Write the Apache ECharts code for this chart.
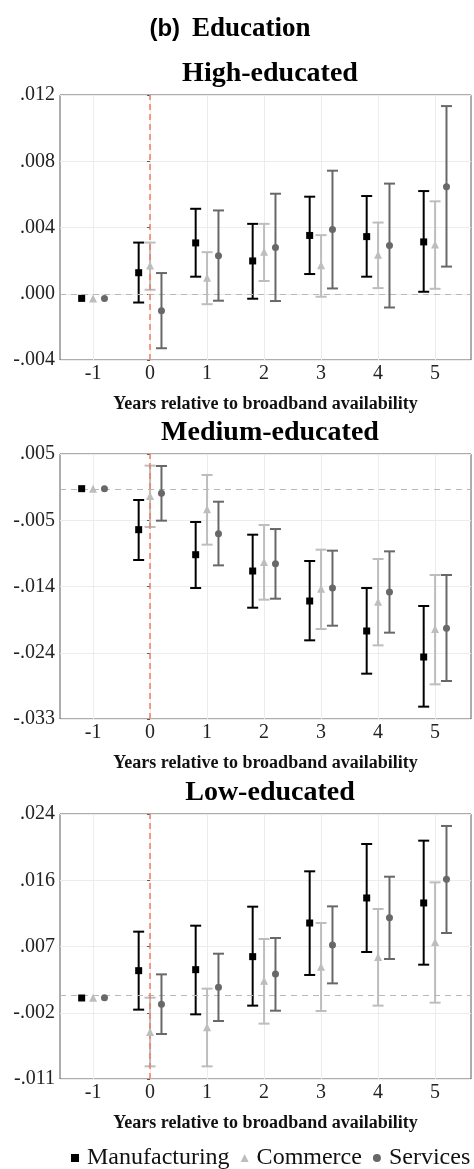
<!DOCTYPE html>
<html>
<head>
<meta charset="utf-8">
<script src="https://cdn.jsdelivr.net/npm/echarts@6/dist/echarts.min.js"></script>
<style>
html,body{margin:0;padding:0;background:#fff;}
#chart{width:474px;height:1169px;}
</style>
</head>
<body>
<div id="chart"></div>
<script>
// ---------- data ----------
const years = [-1, 0, 1, 2, 3, 4, 5];
const xTickLabels = ['-1', '0', '1', '2', '3', '4', '5'];
const seriesNames = ['Manufacturing', 'Commerce', 'Services'];
const panelTitles = ['High-educated', 'Medium-educated', 'Low-educated'];
const xAxisTitle = 'Years relative to broadband availability';

// y tick labels (bottom to top) and axis ranges
const yTicksHigh = ['-.004', '.000', '.004', '.008', '.012'];
const yTicksMed = ['-.033', '-.024', '-.014', '-.005', '.005'];
const yTicksLow = ['-.011', '-.002', '.007', '.016', '.024'];
const yRangeHigh = [-0.004, 0.012];
const yRangeMed = [-0.033, 0.005];
const yRangeLow = [-0.011, 0.024];
const refHigh = -0.00028, refMed = 0.00003, refLow = -0.00026;

// High-educated
const manuHigh = [-0.00028, 0.00127, 0.00307, 0.00198, 0.00352, 0.00345, 0.00313];
const manuHighLo = [null, -0.00053, 0.00103, -0.00030, 0.00119, 0.00103, 0.00012];
const manuHighHi = [null, 0.00309, 0.00513, 0.00422, 0.00586, 0.00590, 0.00620];
const commHigh = [-0.00028, 0.00170, 0.00097, 0.00253, 0.00172, 0.00236, 0.00297];
const commHighLo = [null, 0.00024, -0.00063, 0.00077, -0.00018, 0.00034, 0.00030];
const commHighHi = [null, 0.00309, 0.00251, 0.00422, 0.00354, 0.00430, 0.00558];
const servHigh = [-0.00028, -0.00103, 0.00230, 0.00279, 0.00388, 0.00291, 0.00646];
const servHighLo = [null, -0.00329, -0.00042, -0.00044, 0.00032, -0.00083, 0.00164];
const servHighHi = [null, 0.00125, 0.00503, 0.00604, 0.00743, 0.00665, 0.01133];

// Medium-educated
const manuMed = [0.00003, -0.00585, -0.00944, -0.01178, -0.01608, -0.02038, -0.02411];
const manuMedLo = [null, -0.01020, -0.01422, -0.01704, -0.02172, -0.02650, -0.03123];
const manuMedHi = [null, -0.00160, -0.00475, -0.00657, -0.01034, -0.01422, -0.01680];
const commMed = [0.00003, -0.00102, -0.00294, -0.01049, -0.01431, -0.01618, -0.02010];
const commMedLo = [null, -0.00547, -0.00800, -0.01589, -0.02010, -0.02244, -0.02803];
const commMedHi = [null, 0.00333, 0.00199, -0.00518, -0.00872, -0.01006, -0.01235];
const servMed = [0.00003, -0.00064, -0.00642, -0.01073, -0.01422, -0.01479, -0.02000];
const servMedLo = [null, -0.00456, -0.01097, -0.01575, -0.01962, -0.02062, -0.02755];
const servMedHi = [null, 0.00328, -0.00184, -0.00576, -0.00886, -0.00896, -0.01235];

// Low-educated
const manuLow = [-0.00030, 0.00331, 0.00344, 0.00516, 0.00960, 0.01291, 0.01225];
const manuLowLo = [null, -0.00184, -0.00246, -0.00131, 0.00274, 0.00577, 0.00410];
const manuLowHi = [null, 0.00846, 0.00925, 0.01176, 0.01643, 0.02004, 0.02048];
const commLow = [-0.00026, -0.00479, -0.00418, 0.00199, 0.00384, 0.00511, 0.00709];
const commLowLo = [null, -0.00933, -0.00933, -0.00369, -0.00202, -0.00131, -0.00092];
const commLowHi = [null, -0.00026, 0.00093, 0.00749, 0.00960, 0.01145, 0.01497];
const servLow = [-0.00026, -0.00114, 0.00111, 0.00287, 0.00670, 0.01031, 0.01537];
const servLowLo = [null, -0.00506, -0.00334, -0.00198, 0.00163, 0.00485, 0.00828];
const servLowHi = [null, 0.00282, 0.00555, 0.00762, 0.01180, 0.01572, 0.02242];

// ---------- styling ----------
const SERIF = '"Liberation Serif", "DejaVu Serif", serif';
const colors = ['#000000', '#bdbdbd', '#686868'];
const symbols = ['rect', 'triangle', 'circle'];
const offsets = [-0.2, 0, 0.2];
const gridTops = [95, 454, 814];
const gridH = 265;

const panels = [
  { title: panelTitles[0], ticks: yTicksHigh, range: yRangeHigh, ref: refHigh,
    est: [manuHigh, commHigh, servHigh], lo: [manuHighLo, commHighLo, servHighLo], hi: [manuHighHi, commHighHi, servHighHi] },
  { title: panelTitles[1], ticks: yTicksMed, range: yRangeMed, ref: refMed,
    est: [manuMed, commMed, servMed], lo: [manuMedLo, commMedLo, servMedLo], hi: [manuMedHi, commMedHi, servMedHi] },
  { title: panelTitles[2], ticks: yTicksLow, range: yRangeLow, ref: refLow,
    est: [manuLow, commLow, servLow], lo: [manuLowLo, commLowLo, servLowLo], hi: [manuLowHi, commLowHi, servLowHi] }
];

const grid = [], xAxis = [], yAxis = [], series = [];
const title = [{
  text: '{b|(b)}{e|Education}',
  left: 225, top: 11, textAlign: 'center',
  textStyle: { rich: {
    b: { fontFamily: '"Liberation Sans", Arial, sans-serif', fontWeight: 'bold', fontSize: 24, color: '#000' },
    e: { fontFamily: SERIF, fontSize: 27, color: '#000', padding: [0, 0, 0, 12] }
  } }
}];

panels.forEach((p, i) => {
  grid.push({ left: 60, width: 411, top: gridTops[i], height: gridH, show: true,
    borderColor: '#5a5a5a', borderWidth: 1, backgroundColor: 'transparent' });
  title.push({ text: p.title, left: 265, textAlign: 'center', top: gridTops[i] - 40,
    textStyle: { fontFamily: SERIF, fontWeight: 'bold', fontSize: 28, color: '#000' } });

  xAxis.push({
    type: 'value', gridIndex: i, min: -1.58, max: 5.63,
    name: xAxisTitle, nameLocation: 'middle', nameGap: 35,
    nameTextStyle: { fontFamily: SERIF, fontWeight: 'bold', fontSize: 18, color: '#111' },
    axisLine: { show: false },
    axisTick: { show: false, customValues: years },
    axisLabel: { customValues: years, margin: 4, fontFamily: SERIF, fontSize: 20, color: '#222',
      formatter: v => xTickLabels[years.indexOf(Math.round(v))] },
    splitLine: { show: true, lineStyle: { color: '#ececec', width: 1 } }
  });

  // tick axis (index scale) for the labelled y ticks
  yAxis.push({
    type: 'value', gridIndex: i, min: 0, max: p.ticks.length - 1, interval: 1, position: 'left',
    axisLine: { show: false },
    axisTick: { show: true, length: 3, lineStyle: { color: '#5a5a5a' } },
    axisLabel: { margin: 5, fontFamily: SERIF, fontSize: 20, color: '#222',
      formatter: v => p.ticks[Math.round(v)] },
    splitLine: { show: true, lineStyle: { color: '#ececec', width: 1 } }
  });
  // data axis (hidden)
  yAxis.push({
    type: 'value', gridIndex: i, min: p.range[0], max: p.range[1], position: 'right', show: false,
    splitLine: { show: false }
  });
  const yDataIdx = i * 2 + 1;

  // reference lines
  series.push({
    type: 'scatter', xAxisIndex: i, yAxisIndex: yDataIdx, data: [], silent: true,
    markLine: { silent: true, symbol: 'none', label: { show: false },
      data: [
        { yAxis: p.ref, lineStyle: { color: '#b8b8b8', type: [6, 5], width: 1.2 } },
        { xAxis: 0, lineStyle: { color: '#f47b63', type: [6, 4], width: 1.5 } }
      ] },
    z: 1
  });

  for (let s = 0; s < 3; s++) {
    const off = offsets[s];
    const ciData = [];
    years.forEach((yr, k) => {
      if (p.lo[s][k] !== null) ciData.push([yr, p.lo[s][k], p.hi[s][k]]);
    });
    series.push({
      type: 'custom', name: seriesNames[s] + ' CI', xAxisIndex: i, yAxisIndex: yDataIdx,
      data: ciData, encode: { x: 0, y: [1, 2] }, z: 3 + s, silent: true,
      renderItem: (params, api) => {
        const x = api.value(0) + off;
        const a = api.coord([x, api.value(1)]);
        const b = api.coord([x, api.value(2)]);
        const w = 5.5;
        const st = { stroke: colors[s], lineWidth: 2 };
        return { type: 'group', children: [
          { type: 'line', shape: { x1: a[0], y1: a[1], x2: b[0], y2: b[1] }, style: st },
          { type: 'line', shape: { x1: a[0] - w, y1: a[1], x2: a[0] + w, y2: a[1] }, style: st },
          { type: 'line', shape: { x1: b[0] - w, y1: b[1], x2: b[0] + w, y2: b[1] }, style: st }
        ] };
      }
    });
    series.push({
      type: 'scatter', name: seriesNames[s], xAxisIndex: i, yAxisIndex: yDataIdx,
      data: years.map((yr, k) => [yr + off, p.est[s][k]]),
      symbol: symbols[s], symbolSize: s === 1 ? 8 : 7,
      itemStyle: { color: colors[s], opacity: 1 }, z: 10 + s, silent: true
    });
  }
});

const chart = echarts.init(document.getElementById('chart'), null, { renderer: 'canvas' });
chart.setOption({
  animation: false,
  backgroundColor: '#fff',
  title, grid, xAxis, yAxis, series,
  legend: {
    data: [
      { name: 'Manufacturing', icon: 'rect' },
      { name: 'Commerce', icon: 'triangle' },
      { name: 'Services', icon: 'circle' }
    ],
    left: 71, top: 1146, width: 600, padding: 0, itemWidth: 8, itemHeight: 8, itemGap: 11,
    textStyle: { fontFamily: SERIF, fontSize: 24, color: '#111', padding: [0, 0, 0, 3] }
  }
});
</script>
</body>
</html>
